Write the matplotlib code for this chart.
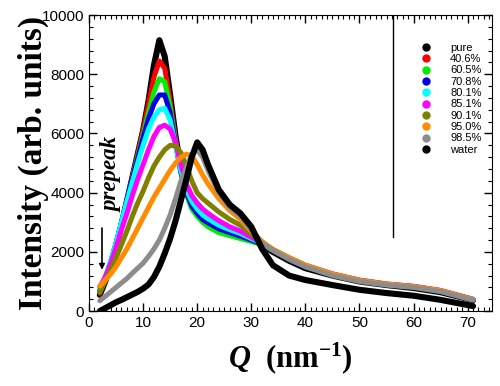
import matplotlib
matplotlib.use('Agg')
import matplotlib.pyplot as plt
from matplotlib.ticker import MultipleLocator, AutoMinorLocator


# ------------------------------------------- #
#  Data      #
# ------------------------------------------- #
q = [2, 3, 4, 5, 6, 7, 8, 9, 10, 11, 12, 13, 14, 15, 16, 17, 18, 19, 20, 21,
     22, 24, 26, 28, 30, 32, 34, 37, 40, 45, 50, 55, 60, 65, 71]

labels = ['pure', '40.6%', '60.5%', '70.8%', '80.1%', '85.1%', '90.1%', '95.0%', '98.5%', 'water']
colors = ['#000000', '#ff0000', '#00ee00', '#0000e6', '#00ffff', '#ff00ff', '#808000', '#ff8c00', '#8c8c8c', '#000000']

pure = [550, 1000, 1550, 2200, 2900, 3700, 4500, 5300, 6100, 7100, 8300, 9150, 8600, 7300, 5900, 4800, 4100, 3650, 3350, 3150,
        3000, 2800, 2680, 2560, 2420, 2250, 2000, 1700, 1450, 1200, 1000, 880, 780, 640, 370]
c406 = [600, 1050, 1600, 2250, 2950, 3700, 4500, 5300, 6100, 7000, 7900, 8450, 8200, 7100, 5800, 4750, 4050, 3600, 3350, 3150,
        3000, 2800, 2680, 2560, 2420, 2270, 2050, 1750, 1500, 1230, 1030, 900, 820, 680, 390]
c605 = [650, 1050, 1600, 2250, 2950, 3700, 4450, 5200, 5950, 6700, 7400, 7850, 7750, 6900, 5700, 4650, 3950, 3450, 3200, 3000,
        2850, 2650, 2550, 2450, 2350, 2250, 2050, 1750, 1500, 1230, 1030, 900, 820, 680, 390]
c708 = [700, 1100, 1650, 2300, 3000, 3750, 4450, 5150, 5850, 6500, 7000, 7300, 7300, 6700, 5650, 4700, 4000, 3550, 3300, 3100,
        2980, 2780, 2650, 2530, 2400, 2260, 2050, 1750, 1500, 1230, 1030, 900, 820, 680, 390]
c801 = [750, 1150, 1700, 2300, 3000, 3700, 4350, 5000, 5600, 6150, 6550, 6800, 6850, 6450, 5600, 4750, 4100, 3700, 3450, 3250,
        3120, 2900, 2750, 2620, 2450, 2280, 2070, 1780, 1530, 1250, 1040, 910, 830, 690, 400]
c851 = [820, 1150, 1600, 2150, 2750, 3300, 3900, 4450, 4950, 5450, 5900, 6200, 6280, 6150, 5700, 4950, 4300, 3900, 3650, 3450,
        3300, 3050, 2850, 2700, 2500, 2300, 2080, 1800, 1550, 1260, 1050, 920, 840, 700, 400]
c901 = [700, 1000, 1400, 1800, 2250, 2700, 3200, 3650, 4050, 4500, 4900, 5200, 5450, 5600, 5580, 5350, 4900, 4400, 4000, 3800,
        3650, 3350, 3100, 2900, 2600, 2320, 2080, 1800, 1550, 1250, 1040, 910, 830, 690, 390]
c950 = [850, 1050, 1250, 1500, 1800, 2100, 2450, 2800, 3150, 3500, 3850, 4150, 4450, 4750, 5000, 5200, 5300, 5250, 4950, 4600,
        4300, 3800, 3400, 3100, 2700, 2350, 2080, 1800, 1550, 1250, 1040, 910, 830, 690, 390]
c985 = [350, 500, 650, 800, 950, 1100, 1280, 1450, 1620, 1850, 2100, 2400, 2800, 3250, 3800, 4400, 4850, 5300, 5450, 5200,
        4750, 4000, 3500, 3200, 2750, 2300, 2050, 1750, 1500, 1200, 1000, 880, 800, 660, 370]
water = [0, 100, 200, 300, 380, 470, 560, 650, 760, 900, 1150, 1500, 1950, 2450, 3050, 3750, 4450, 5200, 5700, 5450,
         4950, 4100, 3600, 3300, 2850, 2100, 1550, 1200, 1050, 880, 720, 610, 520, 380, 170]

series = [pure, c406, c605, c708, c801, c851, c901, c950, c985, water]


# ------------------------------------------- #
#  Figure                                     #
# ------------------------------------------- #
plt.rcParams['mathtext.fontset'] = 'custom'
plt.rcParams['mathtext.rm'] = 'Liberation Serif:bold'
plt.rcParams['mathtext.it'] = 'Liberation Serif:bold:italic'
plt.rcParams['mathtext.bf'] = 'Liberation Serif:bold'

fig = plt.figure(figsize=(5.0, 3.86), dpi=100)
ax = fig.add_axes([0.178, 0.194, 0.806, 0.767])

for values, color, label in zip(series, colors, labels):
    width = 4.4 if color == '#000000' else 3.6
    ax.plot(q, values, color=color, lw=width, solid_joinstyle='round', solid_capstyle='round')
    # legend handle only
    ax.plot([], [], 'o', color=color, markersize=5, label=label)

ax.set_xlim(0, 74.5)
ax.set_ylim(0, 10000)

# Ticks: inward, on all four sides
ax.xaxis.set_major_locator(MultipleLocator(10))
ax.xaxis.set_minor_locator(AutoMinorLocator(10))
ax.yaxis.set_major_locator(MultipleLocator(2000))
ax.yaxis.set_minor_locator(AutoMinorLocator(5))
ax.tick_params(which='both', direction='in', top=True, right=True)
ax.tick_params(which='major', length=6, width=1)
ax.tick_params(which='minor', length=3, width=0.8)
for lbl in ax.get_xticklabels() + ax.get_yticklabels():
    lbl.set_fontfamily('Liberation Sans')
    lbl.set_fontsize(11)

ax.set_ylabel('Intensity (arb. units)', fontsize=24, fontweight='bold', family='Liberation Serif')
ax.yaxis.set_label_coords(-0.1, 0.5)
ax.set_xlabel(r'$Q$  (nm$^{-1}$)', fontsize=22, fontweight='bold', family='Liberation Serif')
ax.xaxis.set_label_coords(0.5, -0.1)

# prepeak annotation
ax.annotate('', xy=(2.4, 1300), xytext=(2.4, 2900),
            arrowprops=dict(arrowstyle='-|>', color='k', lw=1.2, mutation_scale=8))
ax.text(4.2, 4600, 'prepeak', rotation=90, ha='center', va='center', fontsize=16.5,
        family='Liberation Serif', style='italic', fontweight='bold')

# Legend area and its left border
ax.axvline(56.2, ymin=0.25, ymax=1.0, color='k', lw=1)
leg = ax.legend(loc='upper left', bbox_to_anchor=(0.808, 0.925), frameon=False,
                prop={'family': 'Liberation Sans', 'size': 8}, labelspacing=0.12,
                handlelength=1.0, handletextpad=1.7, borderpad=0)

fig.savefig('out.png', dpi=100)
